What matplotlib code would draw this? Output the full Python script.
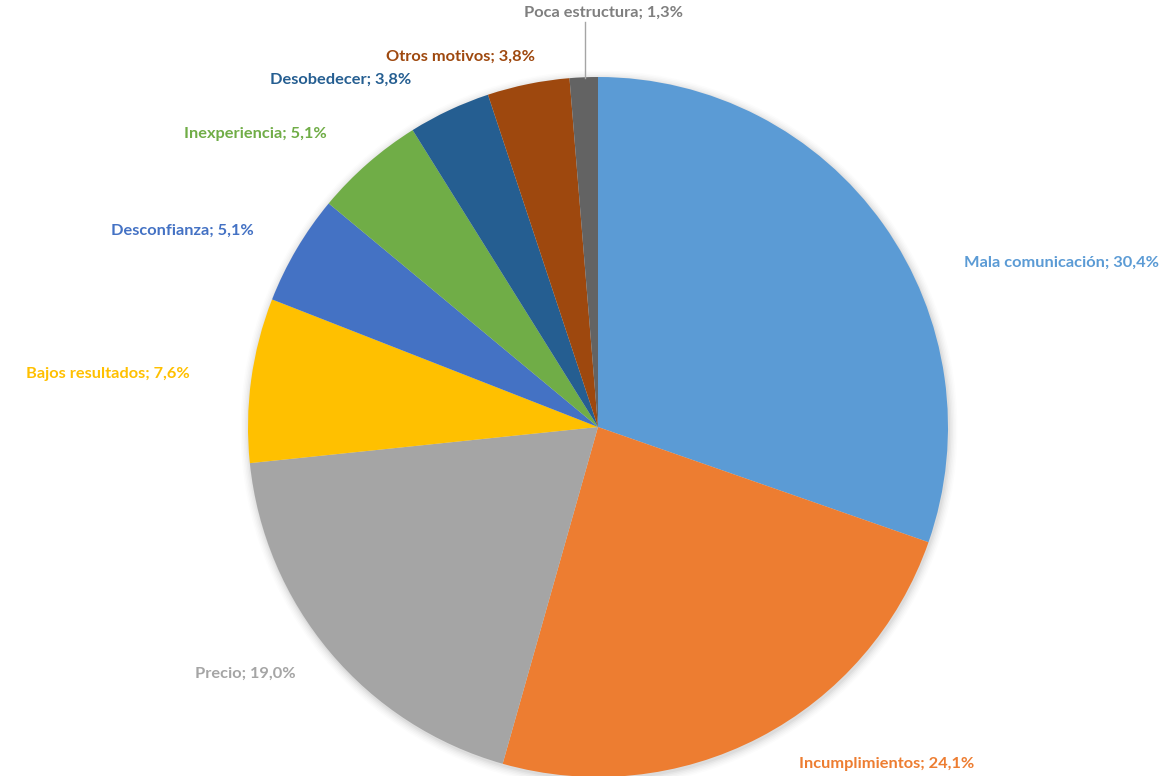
import matplotlib
matplotlib.use("Agg")
import matplotlib.pyplot as plt
from matplotlib.patches import Circle

categories = ["Mala comunicación", "Incumplimientos", "Precio", "Bajos resultados",
              "Desconfianza", "Inexperiencia", "Desobedecer", "Otros motivos",
              "Poca estructura"]
values = [30.4, 24.1, 19.0, 7.6, 5.1, 5.1, 3.8, 3.8, 1.3]
colors = ["#5B9BD5", "#ED7D31", "#A5A5A5", "#FFC000", "#4472C4",
          "#70AD47", "#255E91", "#9E480E", "#636363"]

W, H = 1165, 776
fig = plt.figure(figsize=(W / 100, H / 100), dpi=100)
ax = fig.add_axes([0, 0, 1, 1])
ax.set_xlim(0, W)
ax.set_ylim(0, H)
ax.set_aspect("equal")
ax.axis("off")

cx, cy, r = 598, H - 427, 350

# soft shadow around the pie
for i, a in enumerate([0.035, 0.03, 0.025, 0.02, 0.015, 0.01]):
    ax.add_patch(Circle((cx + 1, cy - 2), r + 1 + i * 1.5, color="black",
                        alpha=a, lw=0, zorder=0))

ax.pie(values, colors=colors, startangle=90, counterclock=False,
       center=(cx, cy), radius=r, frame=True,
       wedgeprops=dict(linewidth=0, zorder=2))
ax.set_xlim(0, W)
ax.set_ylim(0, H)
ax.axis("off")

# label anchor points (pixel coordinates from top-left)
label_pos = [(1061, 263), (887, 764), (245, 674), (108, 374), (182, 231),
             (255, 134), (341, 80), (460, 57), (603, 13)]
label_colors = ["#5B9BD5", "#ED7D31", "#A5A5A5", "#FFC000", "#4472C4",
                "#70AD47", "#255E91", "#9E480E", "#7F7F7F"]

for cat, v, (px, py), c in zip(categories, values, label_pos, label_colors):
    txt = f"{cat}; {v:.1f}%".replace(".", ",")
    ax.text(px, H - py, txt, ha="center", va="center", color=c,
            fontsize=11.8, fontfamily="Lato", fontweight="bold", zorder=5)

# leader line for the smallest slice
ax.plot([585, 585], [H - 22, H - 78], color="#A5A5A5", lw=1, zorder=3)

fig.savefig("out.png", dpi=100, facecolor="white")
